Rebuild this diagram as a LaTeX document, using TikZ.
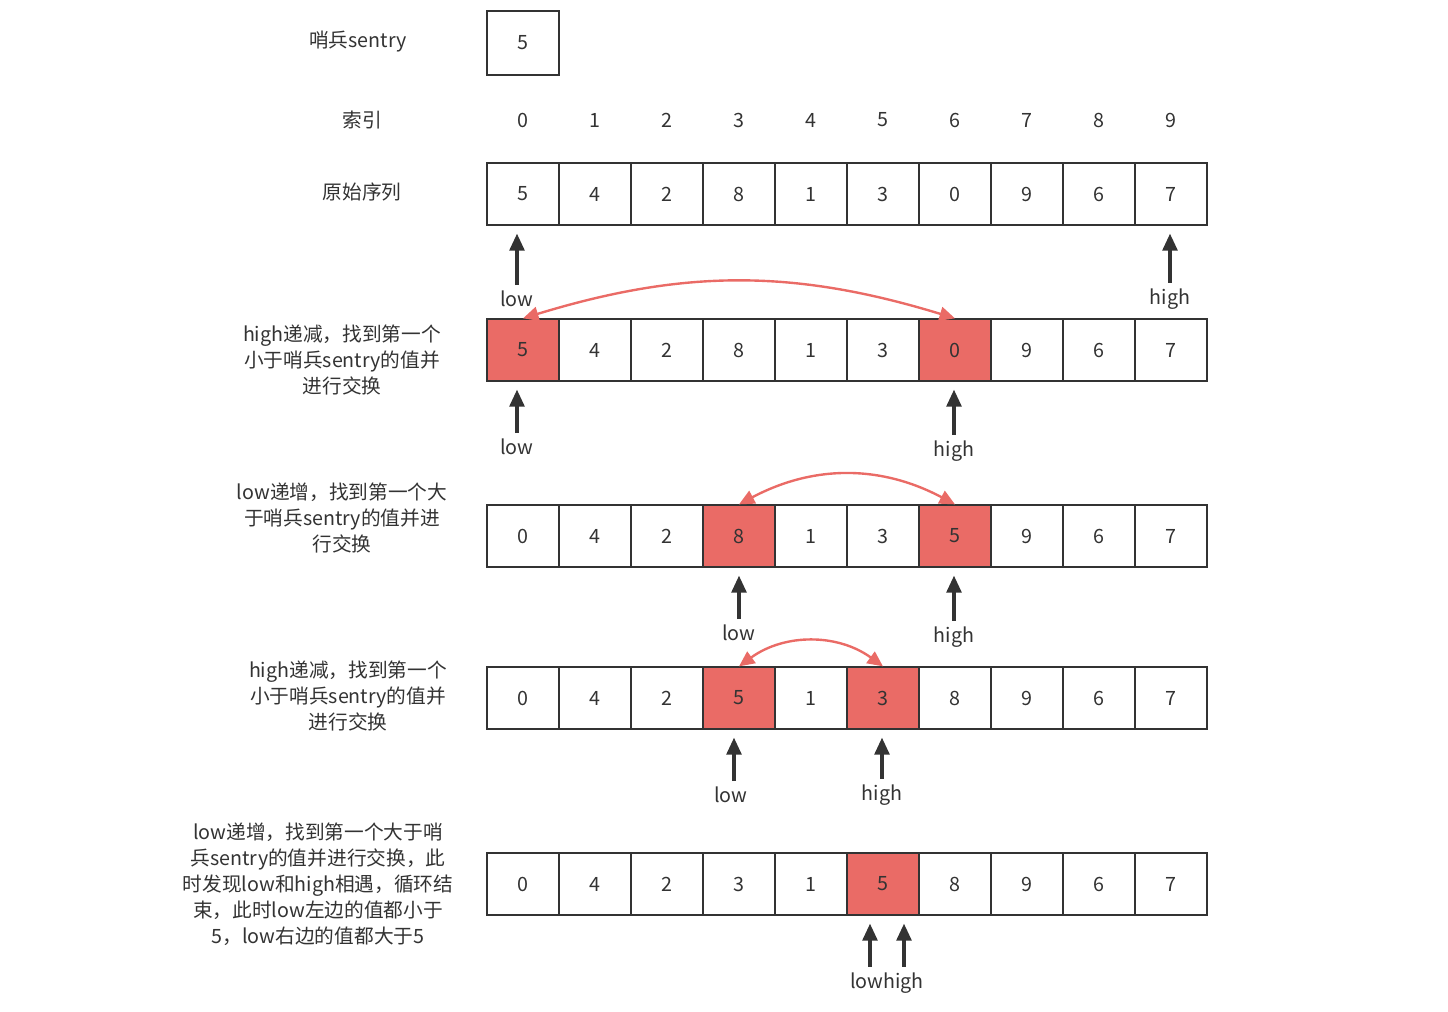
\documentclass[tikz,border=0pt]{standalone}
\usepackage{fontspec}
\setmainfont{Noto Sans CJK SC}
\usetikzlibrary{arrows.meta,positioning}
\definecolor{swapred}{HTML}{EA6B66}
\definecolor{inkgray}{HTML}{333333}

\begin{document}
\begin{tikzpicture}[
    x=0.025cm, y=0.025cm,
    font=\fontsize{14pt}{18.4pt}\selectfont,
    text=inkgray,
    cell/.style={rectangle, draw=inkgray, line width=0.9pt, minimum width=1.8cm, minimum height=1.55cm, inner sep=0pt},
    hot/.style={cell, fill=swapred},
    note/.style={align=center},
    tag/.style={inner sep=2pt},
    ptr/.style={-{Triangle[length=12pt,width=10.5pt]}, line width=2.2pt, draw=inkgray, shorten <=2pt, shorten >=0.2cm},
    swap/.style={{Triangle[length=11pt,width=10pt]}-{Triangle[length=11pt,width=10pt]}, line width=1.7pt, draw=swapred}
]
\useasboundingbox (0,0) rectangle (1448,-1012);

% sentry and index
\node (sentryLbl) at (358,-42) {哨兵sentry};
\node[cell, minimum height=1.6cm] (sentry) at (523,-43) {5};
\node (idxLbl) at (362,-120) {索引};
\foreach \i in {0,...,9}
  \node (idx\i) at (523+72*\i,-120) {\i};

% original sequence
\node (origLbl) at (362,-192) {原始序列};
\foreach \v [count=\i from 0] in {5,4,2,8,1,3,0,9,6,7}
  \node[cell] (orig\i) at (523+72*\i,-194) {\v};
\node[tag] (origLow) at (517,-299) {low};
\node[tag] (origHigh) at (1170,-299) {high};
\draw[ptr] (origLow.north) -- (origLow.north |- orig0.south);
\draw[ptr] (origHigh.north) -- (origHigh.north |- orig9.south);

% step 1: high decreases
\node[note] (stepA) at (342,-360) {high递减，找到第一个\\小于哨兵sentry的值并\\进行交换};
\foreach \v/\s [count=\i from 0] in {5/hot,4/cell,2/cell,8/cell,1/cell,3/cell,0/hot,9/cell,6/cell,7/cell}
  \node[\s] (rowA\i) at (523+72*\i,-350) {\v};
\draw[swap] (rowA0.north) to[bend left=17] (rowA6.north);
\node[tag] (rowALow) at (517,-447) {low};
\node[tag] (rowAHigh) at (954,-451) {high};
\draw[ptr] (rowALow.north) -- (rowALow.north |- rowA0.south);
\draw[ptr] (rowAHigh.north) -- (rowAHigh.north |- rowA6.south);

% step 2: low increases
\node[note] (stepB) at (342,-518) {low递增，找到第一个大\\于哨兵sentry的值并进\\行交换};
\foreach \v/\s [count=\i from 0] in {0/cell,4/cell,2/cell,8/hot,1/cell,3/cell,5/hot,9/cell,6/cell,7/cell}
  \node[\s] (rowB\i) at (523+72*\i,-536) {\v};
\draw[swap] (rowB3.north) to[bend left=28] (rowB6.north);
\node[tag] (rowBLow) at (739,-633) {low};
\node[tag] (rowBHigh) at (954,-637) {high};
\draw[ptr] (rowBLow.north) -- (rowBLow.north |- rowB3.south);
\draw[ptr] (rowBHigh.north) -- (rowBHigh.north |- rowB6.south);

% step 3: high decreases
\node[note] (stepC) at (348,-696) {high递减，找到第一个\\小于哨兵sentry的值并\\进行交换};
\foreach \v/\s [count=\i from 0] in {0/cell,4/cell,2/cell,5/hot,1/cell,3/hot,8/cell,9/cell,6/cell,7/cell}
  \node[\s] (rowC\i) at (523+72*\i,-698) {\v};
\draw[swap] (rowC3.north) to[bend left=36] (rowC5.north);
\node[tag] (rowCLow) at (731,-795) {low};
\node[tag] (rowCHigh) at (882,-795) {high};
\draw[ptr] ([xshift=0.075cm]rowCLow.north) -- ([xshift=0.075cm]rowCLow.north |- rowC3.south);
\draw[ptr] (rowCHigh.north) -- (rowCHigh.north |- rowC5.south);

% step 4: low meets high
\node[note] (stepD) at (318,-884) {low递增，找到第一个大于哨\\兵sentry的值并进行交换，此\\时发现low和high相遇，循环结\\束，此时low左边的值都小于\\5，low右边的值都大于5};
\foreach \v/\s [count=\i from 0] in {0/cell,4/cell,2/cell,3/cell,1/cell,5/hot,8/cell,9/cell,6/cell,7/cell}
  \node[\s] (rowD\i) at (523+72*\i,-884) {\v};
\node[tag] (rowDMeet) at (887,-983) {lowhigh};
\draw[ptr] ([xshift=-0.425cm]rowDMeet.north) -- ([xshift=-0.425cm]rowDMeet.north |- rowD5.south);
\draw[ptr] ([xshift=0.425cm]rowDMeet.north) -- ([xshift=0.425cm]rowDMeet.north |- rowD5.south);

\end{tikzpicture}
\end{document}
